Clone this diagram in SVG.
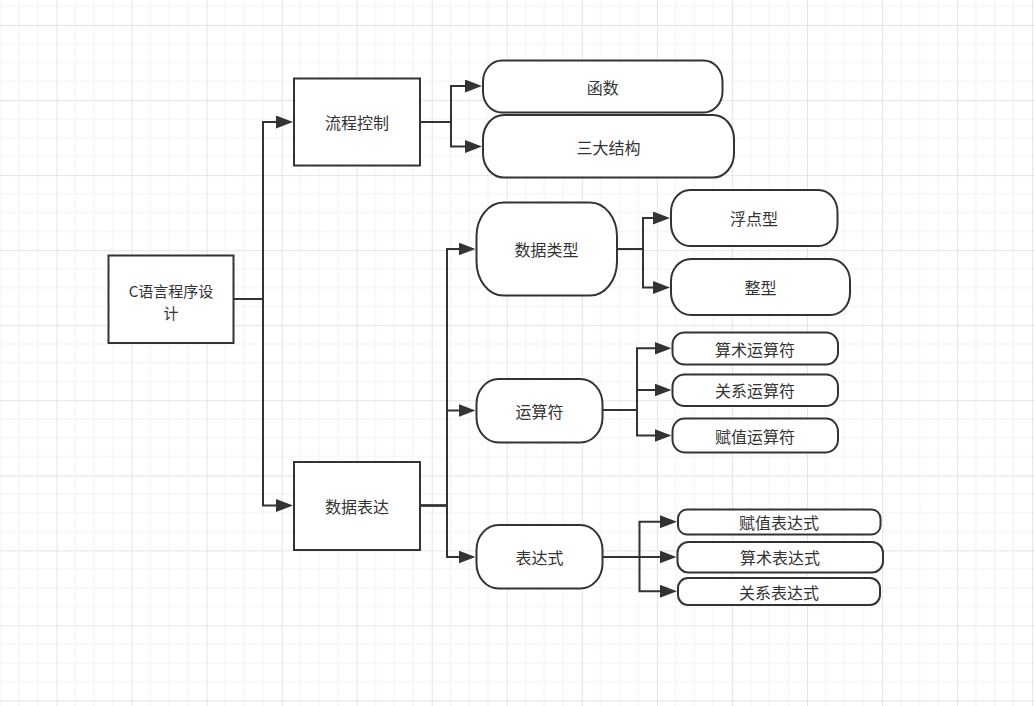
<svg xmlns="http://www.w3.org/2000/svg" width="1035" height="706" viewBox="0 0 1035 706">
<defs>
<pattern id="grid" patternUnits="userSpaceOnUse" x="56.5" y="25" width="75.05" height="75.05">
<path d="M18.76,0 V75.05 M37.53,0 V75.05 M56.29,0 V75.05 M0,18.76 H75.05 M0,37.53 H75.05 M0,56.29 H75.05" stroke="#f1f1f1" stroke-width="1" fill="none"/>
<path d="M0.5,0 V75.05 M0,0.5 H75.05" stroke="#e4e4e4" stroke-width="1" fill="none"/>
</pattern>
<marker id="arr" markerUnits="userSpaceOnUse" markerWidth="18" markerHeight="13" refX="1" refY="6.5" orient="auto">
<path d="M0,0 L17,6.5 L0,13 z" fill="#333333"/>
</marker>
</defs>
<style>
.n{fill:#ffffff;stroke:#333333;stroke-width:2}
.t{font-family:"Noto Sans CJK SC","Liberation Sans",sans-serif;font-size:16px;fill:#333333;text-anchor:middle;dominant-baseline:central}
.r{font-size:15px}
.e{fill:none;stroke:#333333;stroke-width:2;marker-end:url(#arr)}
</style>
<rect x="0" y="0" width="1035" height="706" fill="#ffffff"/>
<rect x="0" y="0" width="1035" height="706" fill="url(#grid)"/>
<g id="connectors">
<path class="e" d="M233.5,299 H263 V122 H277"/>
<path class="e" d="M233.5,299 H263 V505.5 H277"/>
<path class="e" d="M420,122 H451 V86 H466"/>
<path class="e" d="M420,122 H451 V146.5 H466"/>
<path class="e" d="M420,505.5 H447 V249 H459.5"/>
<path class="e" d="M420,505.5 H447 V410.5 H459.5"/>
<path class="e" d="M420,505.5 H447 V557 H459.5"/>
<path class="e" d="M617,249 H643 V218 H654"/>
<path class="e" d="M617,249 H643 V287.5 H654"/>
<path class="e" d="M602.5,410 H637 V348.3 H655.5"/>
<path class="e" d="M602.5,410 H637 V390 H655.5"/>
<path class="e" d="M602.5,410 H637 V435.5 H655.5"/>
<path class="e" d="M602.5,557 H639.5 V521.7 H661"/>
<path class="e" d="M602.5,557 H660.5"/>
<path class="e" d="M602.5,557 H639.5 V591.3 H661"/>
</g>
<g id="root"><rect class="n" x="108.5" y="255.5" width="125" height="87.5"/><text class="t r" x="171" y="290.5">C语言程序设</text><text class="t r" x="171" y="312">计</text></g>
<g id="liucheng"><rect class="n" x="294" y="78.5" width="126" height="87"/><text class="t" x="357" y="122">流程控制</text></g>
<g id="shujubiaoda"><rect class="n" x="294" y="462" width="126" height="88"/><text class="t" x="357" y="506">数据表达</text></g>
<g id="hanshu"><rect class="n" x="483" y="60.5" width="239.5" height="52" rx="19" ry="21"/><text class="t" x="602.7" y="86.5">函数</text></g>
<g id="sandajiegou"><rect class="n" x="483" y="115" width="251" height="62.5" rx="21" ry="24"/><text class="t" x="608.5" y="146.5">三大结构</text></g>
<g id="shujuleixing"><rect class="n" x="476.5" y="202.5" width="140.5" height="93" rx="27" ry="34"/><text class="t" x="546.5" y="249">数据类型</text></g>
<g id="fudianxing"><rect class="n" x="671" y="190" width="166.5" height="56" rx="19" ry="22"/><text class="t" x="754" y="218">浮点型</text></g>
<g id="zhengxing"><rect class="n" x="671" y="259" width="179" height="56" rx="20" ry="22"/><text class="t" x="760.5" y="287">整型</text></g>
<g id="yunsuanfu"><rect class="n" x="476.5" y="379" width="126" height="63.5" rx="22" ry="25"/><text class="t" x="539.5" y="410.7">运算符</text></g>
<g id="biaodashi"><rect class="n" x="476.5" y="525" width="126" height="63.5" rx="22" ry="25"/><text class="t" x="539.5" y="556.7">表达式</text></g>
<g id="suanshuyunsuanfu"><rect class="n" x="672.5" y="332.5" width="165.5" height="32" rx="12" ry="12"/><text class="t" x="755" y="348.5">算术运算符</text></g>
<g id="guanxiyunsuanfu"><rect class="n" x="672.5" y="374.5" width="165.5" height="31.5" rx="12" ry="12"/><text class="t" x="755" y="390">关系运算符</text></g>
<g id="fuzhiyunsuanfu"><rect class="n" x="672.5" y="418.5" width="165.5" height="34" rx="12" ry="13"/><text class="t" x="755" y="435.5">赋值运算符</text></g>
<g id="fuzhibiaodashi"><rect class="n" x="678" y="509.5" width="202.5" height="25" rx="9" ry="9"/><text class="t" x="779" y="522">赋值表达式</text></g>
<g id="suanshubiaodashi"><rect class="n" x="677.5" y="542" width="205.5" height="30.5" rx="11" ry="11"/><text class="t" x="780" y="557">算术表达式</text></g>
<g id="guanxibiaodashi"><rect class="n" x="678" y="578" width="202" height="27" rx="10" ry="10"/><text class="t" x="779" y="591.5">关系表达式</text></g>
</svg>
